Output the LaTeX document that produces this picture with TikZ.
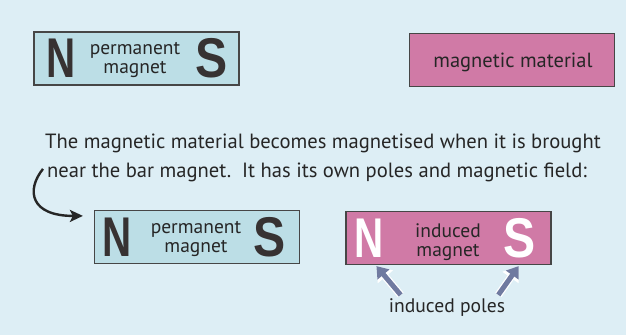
\documentclass[tikz,border=0pt]{standalone}
\usepackage{fontspec}
\setmainfont{PT Sans}
\newfontfamily\polefont{Liberation Sans}
\usetikzlibrary{arrows.meta,positioning,calc}
\definecolor{pageBlue}{RGB}{221,238,245}
\definecolor{magBlue}{RGB}{188,222,230}
\definecolor{matPink}{RGB}{208,122,166}
\definecolor{edgeGray}{RGB}{70,70,70}
\definecolor{poleDark}{RGB}{55,50,50}
\definecolor{ptrBlue}{RGB}{112,122,160}
\tikzset{
  bar/.style={draw=edgeGray, line width=1.2pt, minimum width=205pt, minimum height=53pt, inner sep=0pt},
  magnet/.style={bar, fill=magBlue},
  material/.style={bar, fill=matPink},
  pole/.style={font=\polefont\bfseries\fontsize{56}{56}\selectfont, inner sep=0pt, text=poleDark},
  label/.style={font=\fontsize{19.5}{19}\selectfont, align=center, inner sep=0pt, text=black!85},
  note/.style={font=\fontsize{20.6}{29}\selectfont, inner sep=0pt, anchor=base west, text=black!85},
  curvearrow/.style={-{Stealth[length=13pt,width=12pt,inset=3pt]}, line width=2.4pt, black!85},
  pointer/.style={-{Triangle[length=11pt,width=15pt]}, line width=5pt, ptrBlue,
    preaction={draw=white, line width=7.5pt, -{Triangle[length=14pt,width=19pt]}}}
}
\newcommand{\poleN}{\scalebox{0.72}[1]{N}}
\newcommand{\poleS}{\scalebox{0.86}[1]{S}}

\begin{document}
\begin{tikzpicture}[x=1pt,y=-1pt]
  \useasboundingbox (0,0) rectangle (626,335);
  \fill[pageBlue] (0,0) rectangle (626,335);

  % before: magnet and material apart
  \node[magnet] (pm1) at (136.5,58.5) {};
  \node[pole, right=13pt of pm1.west] (pm1n) {\poleN};
  \node[pole, left=12pt of pm1.east] (pm1s) {\poleS};
  \node[label] (pm1t) at (135,60) {permanent\\magnet};

  \node[material] (mm) at (512,60) {};
  \node[label, font=\fontsize{20.5}{19}\selectfont] (mmt) at (513,62) {magnetic material};

  \node[note] (noteA) at (45,148) {The magnetic material becomes magnetised when it is brought};
  \node[note] (noteB) at (47,177) {near the bar magnet.\ \ It has its own poles and magnetic field:};

  % after: induced magnet
  \node[magnet] (pm2) at (197,237) {};
  \node[pole, right=8pt of pm2.west] (pm2n) {\poleN};
  \node[pole, left=14pt of pm2.east] (pm2s) {\poleS};
  \node[label] (pm2t) at (196,239) {permanent\\magnet};

  \node[material] (im) at (448.5,238) {};
  \node[pole, text=white, right=9pt of im.west] (imn) {\poleN};
  \node[pole, text=white, left=16pt of im.east] (ims) {\poleS};
  \node[label] (imt) at (448,242) {induced\\magnet};

  \node[label, font=\fontsize{19.6}{19}\selectfont] (poles) at (447,308) {induced poles};

  \draw[curvearrow] ($(noteB.west)+(-4,-3)$) .. controls (26,190) and (30,216) .. ($(pm2.north west)+(-11,6)$);
  \draw[pointer] ($(poles.north west)+(12,-4)$) -- ($(im.south west)+(31,1)$);
  \draw[pointer] ($(poles.north east)+(-7,-4)$) -- ($(im.south east)+(-33,1)$);
\end{tikzpicture}
\end{document}
